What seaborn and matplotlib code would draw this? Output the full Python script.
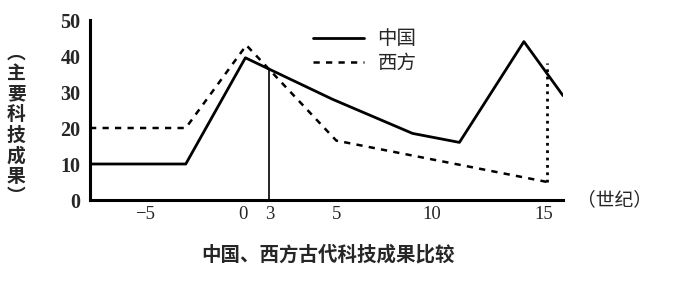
import matplotlib
matplotlib.use("Agg")
import matplotlib.pyplot as plt
import seaborn as sns
import numpy as np

sns.set_theme(style="white")
plt.rcParams['font.family'] = ['Noto Sans CJK SC', 'DejaVu Sans']

# data (x in the chart's drawn century units)
china_x = [-7.8, -2.9, 0.15, 4.6, 8.7, 11.1, 14.4, 16.4]
china_y = [10, 10, 39.5, 28, 18.5, 16, 44, 29]
west_x = [-7.8, -2.9, 0.2, 4.8, 15.6]
west_y = [20, 20, 43, 16.5, 5]
west_drop_x = [15.6, 15.6]
west_drop_y = [5, 38]
mark_x = 1.38  # the "3" century marker

xtick_pos = [-5, 0, 1.38, 4.8, 9.7, 15.4]
xtick_labels = ["\u22125", "0", "3", "5", "10", "15"]
ytick_vals = [0, 10, 20, 30, 40, 50]

fig = plt.figure(figsize=(6.74, 2.94), dpi=100)
ax = fig.add_axes([90/674, 94/294, 473/674, 180/294])

sns.lineplot(x=china_x, y=china_y, ax=ax, sort=False, estimator=None,
             color="black", lw=2.0, label="中国")
sns.lineplot(x=west_x, y=west_y, ax=ax, sort=False, estimator=None,
             color="black", lw=1.8, dashes=False, label="西方")
ax.lines[-1].set_dashes((2.5, 2.5))
sns.lineplot(x=west_drop_x, y=west_drop_y, ax=ax, sort=False, estimator=None,
             color="black", lw=2.0)
ax.lines[-1].set_linestyle(":")

mark_y = np.interp(mark_x, china_x, china_y)
ax.plot([mark_x, mark_x], [0, mark_y], color="black", lw=1.2)

ax.set_xlim(-7.8, 16.4)
ax.set_ylim(0, 50)
ax.set_xticks(xtick_pos)
ax.set_xticklabels(xtick_labels, family="Liberation Serif", fontsize=13.5)
ax.set_yticks(ytick_vals)
ax.set_yticklabels([str(v) for v in ytick_vals], family="Liberation Serif",
                   fontsize=14.5, fontweight="bold")
ax.tick_params(axis="both", length=0)
ax.tick_params(axis="x", pad=4)
ax.tick_params(axis="y", pad=7)

for s in ["top", "right"]:
    ax.spines[s].set_visible(False)
for s in ["left", "bottom"]:
    ax.spines[s].set_linewidth(2.2)
    ax.spines[s].set_color("black")
ax.set_xlabel("")
ax.set_ylabel("")

leg = ax.legend(loc="upper left", bbox_to_anchor=(0.435, 1.05), frameon=False,
                handlelength=2.6, labelspacing=0.15, fontsize=14,
                handletextpad=0.7)

fig.text(16/674, 0.575, "\n".join("︵主要科技成果︶"), ha="center", va="center",
         fontsize=13.5, fontweight="bold", linespacing=1.1)
fig.text(615/674, (294-200)/294, "（世纪）", ha="center", va="center", fontsize=13.5)
fig.text(328/674, (294-255)/294, "中国、西方古代科技成果比较", ha="center",
         va="center", fontsize=14, fontweight="bold")

fig.savefig("out.png", dpi=100)
